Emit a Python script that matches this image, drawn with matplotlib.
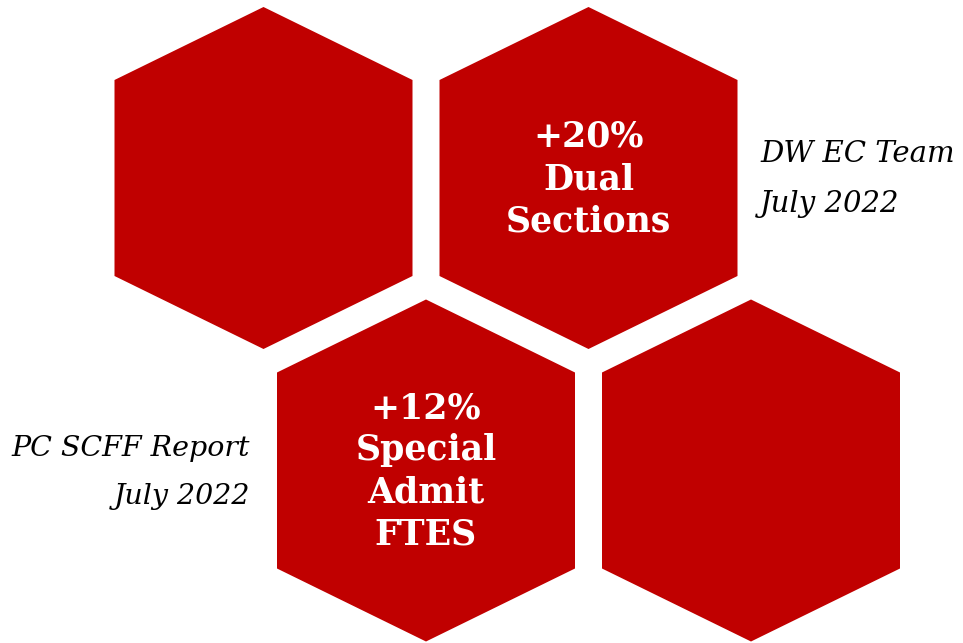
import matplotlib.pyplot as plt
from matplotlib.patches import Polygon

# hexagon grid: (row, col) and the label inside each cell
cells = [(0, 0), (0, 1), (1, 0), (1, 1)]
labels = ["", "+20%\nDual\nSections", "+12%\nSpecial\nAdmit\nFTES", ""]
notes = ["DW EC Team\nJuly 2022", "PC SCFF Report\nJuly 2022"]

red = "#C00000"
half_w = 149
half_h = 171
side_h = 98
step_x = 325
step_y = 292.5
origin = (263.5, 178)

fig = plt.figure(figsize=(9.63, 6.43), dpi=100)
ax = fig.add_axes([0, 0, 1, 1])
ax.set_xlim(0, 963)
ax.set_ylim(643, 0)
ax.axis("off")

shape = [(0, -half_h), (half_w, -side_h), (half_w, side_h),
         (0, half_h), (-half_w, side_h), (-half_w, -side_h)]

for (row, col), label in zip(cells, labels):
    cx = origin[0] + col * step_x + row * step_x / 2
    cy = origin[1] + row * step_y
    pts = [(cx + dx, cy + dy) for dx, dy in shape]
    ax.add_patch(Polygon(pts, closed=True, color=red, lw=0))
    if label:
        ax.text(cx, cy + 1, label, ha="center", va="center", color="white",
                fontsize=25, fontweight="bold", family="DejaVu Serif",
                linespacing=1.3)

ax.text(760, 179, notes[0], ha="left", va="center", fontsize=21,
        style="italic", family="DejaVu Serif", linespacing=2.0)
ax.text(250, 472, notes[1], ha="right", va="center", fontsize=20.5,
        style="italic", family="DejaVu Serif", linespacing=2.0,
        multialignment="right")

fig.savefig("out.png", dpi=100)
